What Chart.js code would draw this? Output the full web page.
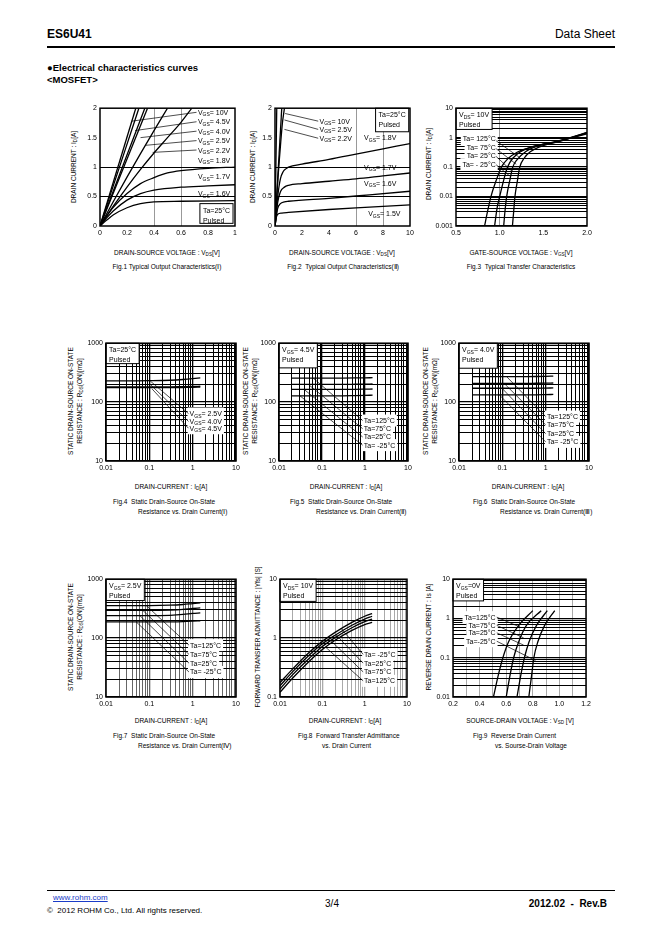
<!DOCTYPE html>
<html>
<head>
<meta charset="utf-8">
<script src="https://cdn.jsdelivr.net/npm/chart.js@4.4.1/dist/chart.umd.min.js"></script>
<style>
body{margin:0;width:662px;height:936px;background:#fff;position:relative;overflow:hidden;font-family:'Liberation Sans',Arial,sans-serif;color:#000}
.a{position:absolute;white-space:nowrap;line-height:1}
.c{transform:translate(-50%,-50%)}
.l{transform:translateY(-50%)}
.r{transform:translate(-100%,-50%)}
.s{font-size:6.5px}
.yt{position:absolute;white-space:nowrap;font-size:6.5px;line-height:9px;text-align:center;transform:translate(-50%,-50%) rotate(-90deg)}
sub{font-size:70%;vertical-align:-1px;line-height:0}
canvas{position:absolute}
.hr{position:absolute;left:47px;width:568px;background:#000}
</style>
</head>
<body>
<div class="a l" style="left:47px;top:34px;font-size:12px;font-weight:bold">ES6U41</div>
<div class="a r" style="left:615px;top:34px;font-size:12px">Data Sheet</div>
<div class="hr" style="top:46px;height:2px"></div>
<div class="a l" style="left:47px;top:68px;font-size:9.5px;font-weight:bold">●Electrical characteristics curves</div>
<div class="a l" style="left:47px;top:80px;font-size:9.5px;font-weight:bold">&lt;MOSFET&gt;</div>

<!-- axis titles, row 1 -->
<div class="yt" style="left:73px;top:167px">DRAIN CURRENT : I<sub>D</sub>[A]</div>
<div class="yt" style="left:252px;top:167px">DRAIN CURRENT : I<sub>D</sub>[A]</div>
<div class="yt" style="left:428px;top:164px">DRAIN CURRENT : I<sub>D</sub>[A]</div>
<div class="a c s" style="left:167px;top:253px">DRAIN-SOURCE VOLTAGE : V<sub>DS</sub>[V]</div>
<div class="a c s" style="left:342px;top:253px">DRAIN-SOURCE VOLTAGE : V<sub>DS</sub>[V]</div>
<div class="a c s" style="left:521px;top:253px">GATE-SOURCE VOLTAGE : V<sub>GS</sub>[V]</div>
<div class="a c s" style="left:167px;top:267px">Fig.1 Typical Output Characteristics(Ⅰ)</div>
<div class="a c s" style="left:343px;top:267px">Fig.2&nbsp; Typical Output Characteristics(Ⅱ)</div>
<div class="a c s" style="left:521px;top:267px">Fig.3&nbsp; Typical Transfer Characteristics</div>

<!-- row 2 -->
<div class="yt" style="left:75px;top:401px">STATIC DRAIN-SOURCE ON-STATE<br>RESISTANCE : R<sub>DS</sub>(ON)[mΩ]</div>
<div class="yt" style="left:250px;top:401px">STATIC DRAIN-SOURCE ON-STATE<br>RESISTANCE : R<sub>DS</sub>(ON)[mΩ]</div>
<div class="yt" style="left:430px;top:401px">STATIC DRAIN-SOURCE ON-STATE<br>RESISTANCE : R<sub>DS</sub>(ON)[mΩ]</div>
<div class="a c s" style="left:171px;top:487px">DRAIN-CURRENT : I<sub>D</sub>[A]</div>
<div class="a c s" style="left:346px;top:487px">DRAIN-CURRENT : I<sub>D</sub>[A]</div>
<div class="a c s" style="left:528px;top:487px">DRAIN-CURRENT : I<sub>D</sub>[A]</div>
<div class="a l s" style="left:113px;top:502px">Fig.4&nbsp; Static Drain-Source On-State</div>
<div class="a l s" style="left:138px;top:512px">Resistance vs. Drain Current(Ⅰ)</div>
<div class="a l s" style="left:290px;top:502px">Fig.5&nbsp; Static Drain-Source On-State</div>
<div class="a l s" style="left:316px;top:512px">Resistance vs. Drain Current(Ⅱ)</div>
<div class="a l s" style="left:473px;top:502px">Fig.6&nbsp; Static Drain-Source On-State</div>
<div class="a l s" style="left:500px;top:512px">Resistance vs. Drain Current(Ⅲ)</div>

<!-- row 3 -->
<div class="yt" style="left:75px;top:637px">STATIC DRAIN-SOURCE ON-STATE<br>RESISTANCE : R<sub>DS</sub>(ON)[mΩ]</div>
<div class="yt" style="left:257px;top:637px">FORWARD TRANSFER ADMITTANCE : |Yfs| [S]</div>
<div class="yt" style="left:428px;top:637px">REVERSE DRAIN CURRENT : Is [A]</div>
<div class="a c s" style="left:171px;top:721px">DRAIN-CURRENT : I<sub>D</sub>[A]</div>
<div class="a c s" style="left:345px;top:721px">DRAIN-CURRENT : I<sub>D</sub>[A]</div>
<div class="a c s" style="left:520px;top:721px">SOURCE-DRAIN VOLTAGE : V<sub>SD</sub> [V]</div>
<div class="a l s" style="left:113px;top:736px">Fig.7&nbsp; Static Drain-Source On-State</div>
<div class="a l s" style="left:138px;top:746px">Resistance vs. Drain Current(Ⅳ)</div>
<div class="a l s" style="left:298px;top:736px">Fig.8&nbsp; Forward Transfer Admittance</div>
<div class="a l s" style="left:322px;top:746px">vs. Drain Current</div>
<div class="a l s" style="left:473px;top:736px">Fig.9&nbsp; Reverse Drain Current</div>
<div class="a l s" style="left:495px;top:746px">vs. Sourse-Drain Voltage</div>

<!-- footer -->
<div class="hr" style="top:890px;height:1px"></div>
<div class="a l" style="left:53px;top:898px;font-size:8px;color:#1a3cc8;text-decoration:underline">www.rohm.com</div>
<div class="a l" style="left:47px;top:911px;font-size:8px">©&nbsp; 2012 ROHM Co., Ltd. All rights reserved.</div>
<div class="a c" style="left:332px;top:904px;font-size:10px">3/4</div>
<div class="a r" style="left:607px;top:904px;font-size:10px;font-weight:bold">2012.02&nbsp; -&nbsp; Rev.B</div>

<script>
// ---- tick labels ----
const f1XTicks = ['0', '0.2', '0.4', '0.6', '0.8', '1'];
const f1YTicks = ['0', '0.5', '1', '1.5', '2'];
const f2XTicks = ['0', '2', '4', '6', '8', '10'];
const f3XTicks = ['0.5', '1.0', '1.5', '2.0'];
const f3YTicks = ['0.001', '0.01', '0.1', '1', '10'];
const rdsXTicks = ['0.01', '0.1', '1', '10'];
const rdsYTicks = ['10', '100', '1000'];
const f8YTicks = ['0.1', '1', '10'];
const f9XTicks = ['0.2', '0.4', '0.6', '0.8', '1.0', '1.2'];
const f9YTicks = ['0.01', '0.1', '1', '10'];

// ---- Fig.1  Id vs Vds (0..1V) ----
const f1_10V_x  = [0, 0.265],            f1_10V_y  = [0, 2];
const f1_45V_x  = [0, 0.288],            f1_45V_y  = [0, 2];
const f1_40V_x  = [0, 0.332],            f1_40V_y  = [0, 2];
const f1_25V_x  = [0, 0.352],            f1_25V_y  = [0, 2];
const f1_22V_x  = [0, 0.1, 0.2, 0.3, 0.4, 0.5];
const f1_22V_y  = [0, 0.42, 0.83, 1.23, 1.62, 2.0];
const f1_18V_x  = [0, 0.1, 0.2, 0.3, 0.4, 0.5, 0.6, 0.68];
const f1_18V_y  = [0, 0.34, 0.66, 0.96, 1.24, 1.5, 1.76, 2.0];
const f1_17V_x  = [0, 0.05, 0.1, 0.2, 0.3, 0.4, 0.5, 0.6, 0.8, 1.0];
const f1_17V_y  = [0, 0.17, 0.32, 0.55, 0.72, 0.82, 0.9, 0.94, 0.98, 1.0];
const f1_16V_x  = [0, 0.05, 0.1, 0.2, 0.3, 0.4, 0.6, 0.8, 1.0];
const f1_16V_y  = [0, 0.14, 0.26, 0.44, 0.55, 0.61, 0.66, 0.68, 0.70];
const f1_15V_x  = [0, 0.05, 0.1, 0.2, 0.3, 0.4, 0.6, 1.0];
const f1_15V_y  = [0, 0.1, 0.19, 0.31, 0.38, 0.41, 0.42, 0.43];

// ---- Fig.2  Id vs Vds (0..10V) ----
const f2_10V_x = [0, 0.13],              f2_10V_y = [0, 2];
const f2_25V_x = [0, 0.5],               f2_25V_y = [0, 2];
const f2_22V_x = [0, 0.2, 0.4, 0.55, 0.7];
const f2_22V_y = [0, 0.75, 1.35, 1.75, 2.0];
const f2_18V_x = [0, 0.2, 0.4, 0.6, 0.8, 1, 2, 4, 6, 8, 10];
const f2_18V_y = [0, 0.5, 0.8, 0.92, 0.97, 1.0, 1.05, 1.13, 1.22, 1.31, 1.4];
const f2_17V_x = [0, 0.2, 0.4, 0.7, 1, 2, 4, 6, 8, 10];
const f2_17V_y = [0, 0.4, 0.58, 0.66, 0.69, 0.72, 0.76, 0.8, 0.85, 0.9];
const f2_16V_x = [0, 0.2, 0.4, 0.7, 1, 4, 7, 10];
const f2_16V_y = [0, 0.3, 0.38, 0.41, 0.42, 0.47, 0.53, 0.59];
const f2_15V_x = [0, 0.1, 0.2, 0.5, 1, 4, 7, 10];
const f2_15V_y = [0, 0.15, 0.2, 0.22, 0.23, 0.28, 0.32, 0.36];

// ---- Fig.3  Id vs Vgs ----
const f3_125_x = [0.827, 0.86, 0.9, 0.96, 1.02, 1.1, 1.2, 1.3, 1.45, 1.6, 1.8, 2.0];
const f3_125_y = [0.001, 0.003, 0.01, 0.035, 0.1, 0.2, 0.32, 0.42, 0.55, 0.67, 0.95, 1.35];
const f3_75_x  = [0.942, 0.97, 1.0, 1.05, 1.09, 1.15, 1.25, 1.35, 1.5, 1.6, 1.8, 2.0];
const f3_75_y  = [0.001, 0.004, 0.01, 0.04, 0.1, 0.2, 0.35, 0.47, 0.6, 0.68, 0.97, 1.42];
const f3_25_x  = [1.046, 1.06, 1.08, 1.12, 1.15, 1.2, 1.3, 1.4, 1.5, 1.6, 1.8, 2.0];
const f3_25_y  = [0.001, 0.003, 0.01, 0.04, 0.1, 0.18, 0.34, 0.48, 0.6, 0.69, 0.98, 1.48];
const f3_m25_x = [1.146, 1.16, 1.175, 1.2, 1.23, 1.28, 1.35, 1.45, 1.55, 1.65, 1.8, 2.0];
const f3_m25_y = [0.001, 0.003, 0.01, 0.03, 0.1, 0.2, 0.33, 0.48, 0.6, 0.7, 0.95, 1.52];

// ---- Fig.4  Rds(on) vs Id, Ta=25C ----
const f4_id      = [0.01, 0.05, 0.1, 0.3, 0.6, 1, 1.5];
const f4_25V_rds = [230, 230, 231, 235, 242, 250, 258];
const f4_40V_rds = [182, 182, 182, 182, 183, 184, 186];
const f4_45V_rds = [176, 176, 176, 176, 177, 178, 180];

// ---- Fig.5  Rds(on) vs Id, Vgs=4.5V ----
const f5_id       = [0.02, 0.05, 0.1, 0.3, 0.6, 1, 1.5];
const f5_125_rds  = [255, 255, 255, 256, 257, 258, 260];
const f5_75_rds   = [200, 200, 200, 200, 201, 202, 203];
const f5_25_rds   = [165, 165, 165, 165, 165, 166, 167];
const f5_m25_rds  = [128, 128, 128, 128, 129, 130, 131];

// ---- Fig.6  Rds(on) vs Id, Vgs=4.0V ----
const f6_id       = [0.02, 0.05, 0.1, 0.3, 0.6, 1, 1.5];
const f6_125_rds  = [270, 270, 270, 271, 272, 274, 276];
const f6_75_rds   = [208, 208, 208, 208, 209, 210, 211];
const f6_25_rds   = [172, 172, 172, 172, 172, 173, 174];
const f6_m25_rds  = [133, 133, 133, 133, 133, 134, 135];

// ---- Fig.7  Rds(on) vs Id, Vgs=2.5V ----
const f7_id       = [0.01, 0.05, 0.1, 0.3, 0.6, 1, 1.5];
const f7_125_rds  = [357, 357, 357, 362, 372, 385, 395];
const f7_75_rds   = [295, 295, 295, 300, 308, 318, 325];
const f7_25_rds   = [240, 240, 240, 244, 252, 262, 268];
const f7_m25_rds  = [188, 188, 188, 189, 191, 194, 197];

// ---- Fig.8  |Yfs| vs Id ----
const f8_id       = [0.01, 0.02, 0.05, 0.1, 0.2, 0.5, 1, 1.5];
const f8_m25_yfs  = [0.175, 0.3, 0.58, 0.88, 1.25, 1.85, 2.35, 2.6];
const f8_25_yfs   = [0.155, 0.27, 0.52, 0.8, 1.12, 1.65, 2.1, 2.35];
const f8_75_yfs   = [0.137, 0.24, 0.46, 0.72, 1.02, 1.5, 1.9, 2.1];
const f8_125_yfs  = [0.12, 0.21, 0.41, 0.64, 0.92, 1.35, 1.7, 1.85];

// ---- Fig.9  Is vs Vsd ----
const f9_is       = [0.01, 0.0376, 0.1, 0.256, 0.666, 1.58];
const f9_125_vsd  = [0.504, 0.542, 0.575, 0.618, 0.694, 0.80];
const f9_75_vsd   = [0.6, 0.63, 0.656, 0.694, 0.752, 0.863];
const f9_25_vsd   = [0.681, 0.711, 0.737, 0.772, 0.828, 0.909];
const f9_m25_vsd  = [0.77, 0.792, 0.808, 0.838, 0.889, 0.965];

Chart.defaults.font.family = "'Liberation Sans', Arial, sans-serif";
Chart.defaults.font.size = 7;
Chart.defaults.color = '#000';

const PL = 30, PB = 14, PT = 6, PR = 10;
const FONT = "7px 'Liberation Sans', Arial, sans-serif";
const SUBF = "5px 'Liberation Sans', Arial, sans-serif";
const NONE = 'rgba(0,0,0,0)';

// text with _{sub} parts
function parts(s) {
    const out = [], re = /_\{([^}]*)\}/g;
    let last = 0, m;
    while ((m = re.exec(s))) {
        if (m.index > last) out.push([s.slice(last, m.index), false]);
        out.push([m[1], true]);
        last = re.lastIndex;
    }
    if (last < s.length) out.push([s.slice(last), false]);
    return out;
}
function richWidth(ctx, s) {
    return parts(s).reduce((w, [t, sub]) => { ctx.font = sub ? SUBF : FONT; return w + ctx.measureText(t).width; }, 0);
}
function drawRich(ctx, s, x, y) {
    for (const [t, sub] of parts(s)) {
        ctx.font = sub ? SUBF : FONT;
        ctx.fillText(t, x, y + (sub ? 1.5 : 0));
        x += ctx.measureText(t).width;
    }
}

const notesPlugin = {
    id: 'notes',
    afterDatasetsDraw(chart, args, o) {
        const { ctx, scales: { x, y }, chartArea: a } = chart;
        const px = v => x.getPixelForValue(v), py = v => y.getPixelForValue(v);
        ctx.save();
        ctx.textBaseline = 'alphabetic';
        const labs = (o.labels || []).map(([text, lx, ly]) => {
            const w = richWidth(ctx, text);
            const left = o.align === 'right' ? px(lx) - w : px(lx);
            return { text, left, w, top: py(ly) };
        });
        if (o.fill) {
            ctx.fillStyle = '#fff';
            labs.forEach(l => ctx.fillRect(l.left - 2, l.top - 6, l.w + 4, 12));
        }
        ctx.strokeStyle = '#000';
        ctx.lineWidth = 0.7;
        (o.leaders || []).forEach(([x1, y1, x2, y2]) => {
            ctx.beginPath(); ctx.moveTo(px(x1), py(y1)); ctx.lineTo(px(x2), py(y2)); ctx.stroke();
        });
        ctx.fillStyle = '#000';
        labs.forEach(l => drawRich(ctx, l.text, l.left, l.top + 2.5));
        if (o.box) {
            const b = o.box;
            const textW = Math.max(...b.lines.map(t => richWidth(ctx, t)));
            const bx = px(b.x1), by = py(b.y1);
            const bw = Math.max(px(b.x2) - bx, textW + 6), bh = py(b.y2) - by;
            ctx.fillStyle = '#fff'; ctx.fillRect(bx, by, bw, bh);
            ctx.lineWidth = 1; ctx.strokeRect(bx, by, bw, bh);
            ctx.fillStyle = '#000';
            b.lines.forEach((t, i) => drawRich(ctx, t, bx + 3, by + 9 + i * 10));
        }
        ctx.lineWidth = 1.5;
        ctx.strokeRect(a.left, a.top, a.right - a.left, a.bottom - a.top);
        ctx.restore();
    }
};

const near = (v, list) => list.some(m => Math.abs(m - v) < 1e-6);

function linScale(min, max, step, labels, marks, color, every = 1) {
    return {
        type: 'linear', min, max,
        ticks: { stepSize: step, autoSkip: false, maxRotation: 0, padding: 3,
                 callback: (v, i) => (i % every ? '' : labels[i / every]) },
        grid: { drawTicks: false, lineWidth: 1,
                color: c => (marks === 'all' || near(c.tick.value, marks)) ? color : NONE },
        border: { display: false }
    };
}

function logTicks(lo, hi) {
    const t = [];
    for (let e = lo; e < hi; e++) for (let s = 1; s < 10; s++) t.push(s * Math.pow(10, e));
    t.push(Math.pow(10, hi));
    return t;
}
const isDecade = v => { const e = Math.log10(v); return Math.abs(e - Math.round(e)) < 1e-6; };

function logScale(lo, hi, labels, color) {
    return {
        type: 'logarithmic', min: Math.pow(10, lo), max: Math.pow(10, hi),
        afterBuildTicks: s => { s.ticks = logTicks(lo, hi).map(value => ({ value })); },
        ticks: { autoSkip: false, maxRotation: 0, padding: 3,
                 callback: v => (isDecade(v) ? labels[Math.round(Math.log10(v)) - lo] : '') },
        grid: { drawTicks: false, color, lineWidth: c => (isDecade(c.tick.value) ? 1.3 : 1) },
        border: { display: false }
    };
}

const ds = (xs, ys) => ({ data: xs.map((v, i) => ({ x: v, y: ys[i] })) });

function makeChart(rect, xScale, yScale, datasets, notes) {
    const [l, t, r, b] = rect;
    const cv = document.createElement('canvas');
    const w = r - l + PL + PR, h = b - t + PT + PB;
    cv.width = w; cv.height = h;
    cv.style.left = (l - PL) + 'px'; cv.style.top = (t - PT) + 'px';
    cv.style.width = w + 'px'; cv.style.height = h + 'px';
    document.body.appendChild(cv);
    xScale.afterFit = s => { s.height = PB; };
    yScale.afterFit = s => { s.width = PL; };
    new Chart(cv, {
        type: 'line',
        data: { datasets },
        options: {
            responsive: false, animation: false, devicePixelRatio: 1, events: [],
            layout: { padding: { top: PT, right: PR, left: 0, bottom: 0 } },
            plugins: { legend: { display: false }, tooltip: { enabled: false }, notes },
            scales: { x: xScale, y: yScale },
            elements: {
                point: { radius: 0 },
                line: { borderColor: '#000', borderWidth: 1.3, cubicInterpolationMode: 'monotone' }
            }
        },
        plugins: [notesPlugin]
    });
}

// Fig.1
makeChart([100, 107, 235, 226],
    linScale(0, 1, 0.2, f1XTicks, [0.4, 0.6], '#999'),
    linScale(0, 2, 0.5, f1YTicks, [0.5, 1], '#000'),
    [ds(f1_10V_x, f1_10V_y), ds(f1_45V_x, f1_45V_y), ds(f1_40V_x, f1_40V_y), ds(f1_25V_x, f1_25V_y),
     ds(f1_22V_x, f1_22V_y), ds(f1_18V_x, f1_18V_y), ds(f1_17V_x, f1_17V_y), ds(f1_16V_x, f1_16V_y),
     ds(f1_15V_x, f1_15V_y)],
    { labels: [['V_{GS}= 10V', 0.725, 1.93], ['V_{GS}= 4.5V', 0.725, 1.77], ['V_{GS}= 4.0V', 0.725, 1.61],
               ['V_{GS}= 2.5V', 0.725, 1.45], ['V_{GS}= 2.2V', 0.725, 1.29], ['V_{GS}= 1.8V', 0.725, 1.12],
               ['V_{GS}= 1.7V', 0.725, 0.84], ['V_{GS}= 1.6V', 0.725, 0.55]],
      leaders: [[0.235, 1.78, 0.715, 1.93], [0.26, 1.62, 0.715, 1.77], [0.30, 1.50, 0.715, 1.61],
                [0.34, 1.37, 0.715, 1.45], [0.39, 1.25, 0.715, 1.29]],
      box: { x1: 0.74, y1: 0.38, x2: 0.985, y2: 0.045, lines: ['Ta=25°C', 'Pulsed'] } });

// Fig.2
makeChart([275, 107, 410, 226],
    linScale(0, 10, 2, f2XTicks, [6, 8], '#999'),
    linScale(0, 2, 0.5, f1YTicks, [0.5, 1], '#000'),
    [ds(f2_10V_x, f2_10V_y), ds(f2_25V_x, f2_25V_y), ds(f2_22V_x, f2_22V_y), ds(f2_18V_x, f2_18V_y),
     ds(f2_17V_x, f2_17V_y), ds(f2_16V_x, f2_16V_y), ds(f2_15V_x, f2_15V_y)],
    { labels: [['V_{GS}= 10V', 3.3, 1.78], ['V_{GS}= 2.5V', 3.3, 1.64], ['V_{GS}= 2.2V', 3.3, 1.49],
               ['V_{GS}= 1.8V', 6.6, 1.5], ['V_{GS}= 1.7V', 6.6, 1.0], ['V_{GS}= 1.6V', 6.6, 0.73],
               ['V_{GS}= 1.5V', 6.9, 0.21]],
      leaders: [[0.75, 1.91, 3.2, 1.78], [0.7, 1.8, 3.2, 1.64], [0.7, 1.64, 3.2, 1.49]],
      box: { x1: 7.45, y1: 2.0, x2: 9.85, y2: 1.6, lines: ['Ta=25°C', 'Pulsed'] } });

// Fig.3
makeChart([456, 107, 587, 226],
    linScale(0.5, 2.0, 0.5, f3XTicks, [1.0], '#999'),
    logScale(-3, 1, f3YTicks, '#000'),
    [ds(f3_125_x, f3_125_y), ds(f3_75_x, f3_75_y), ds(f3_25_x, f3_25_y), ds(f3_m25_x, f3_m25_y)],
    { fill: true, align: 'right',
      labels: [['Ta= 125°C', 0.955, 0.9], ['Ta= 75°C', 0.955, 0.46], ['Ta= 25°C', 0.955, 0.25], ['Ta= - 25°C', 0.955, 0.126]],
      leaders: [[0.96, 0.78, 1.23, 0.21], [0.96, 0.42, 1.19, 0.125], [0.96, 0.23, 1.135, 0.075], [0.96, 0.12, 1.115, 0.05]],
      box: { x1: 0.5, y1: 10, x2: 0.87, y2: 1.9, lines: ['V_{DS}= 10V', 'Pulsed'] } });

// Fig.4
makeChart([106, 342, 236, 461],
    logScale(-2, 1, rdsXTicks, '#000'),
    logScale(1, 3, rdsYTicks, '#000'),
    [ds(f4_id, f4_25V_rds), ds(f4_id, f4_40V_rds), ds(f4_id, f4_45V_rds)],
    { fill: true,
      labels: [['V_{GS}= 2.5V', 0.85, 64], ['V_{GS}= 4.0V', 0.85, 47], ['V_{GS}= 4.5V', 0.85, 36]],
      leaders: [[0.105, 228, 0.8, 64], [0.105, 200, 0.8, 47], [0.115, 168, 0.8, 36]],
      box: { x1: 0.01, y1: 1000, x2: 0.048, y2: 450, lines: ['Ta=25°C', 'Pulsed'] } });

// Fig.5
makeChart([279, 342, 408, 461],
    logScale(-2, 1, rdsXTicks, '#000'),
    logScale(1, 3, rdsYTicks, '#000'),
    [ds(f5_id, f5_125_rds), ds(f5_id, f5_75_rds), ds(f5_id, f5_25_rds), ds(f5_id, f5_m25_rds)],
    { fill: true,
      labels: [['Ta=125°C', 0.94, 48.6], ['Ta=75°C', 0.94, 35.4], ['Ta=25°C', 0.94, 25.6], ['Ta= -25°C', 0.94, 18.6]],
      leaders: [[0.0625, 255, 0.88, 48.6], [0.048, 200, 0.88, 35.4], [0.038, 165, 0.88, 25.6], [0.0306, 128, 0.88, 18.6]],
      box: { x1: 0.01, y1: 1000, x2: 0.055, y2: 381, lines: ['V_{GS}= 4.5V', 'Pulsed'] } });

// Fig.6
makeChart([459, 342, 589, 461],
    logScale(-2, 1, rdsXTicks, '#000'),
    logScale(1, 3, rdsYTicks, '#000'),
    [ds(f6_id, f6_125_rds), ds(f6_id, f6_75_rds), ds(f6_id, f6_25_rds), ds(f6_id, f6_m25_rds)],
    { fill: true,
      labels: [['Ta=125°C', 1.07, 56.8], ['Ta=75°C', 1.07, 41.1], ['Ta=25°C', 1.07, 29.1], ['Ta= -25°C', 1.07, 21.1]],
      leaders: [[0.126, 270, 1.0, 56.8], [0.11, 208, 1.0, 41.1], [0.098, 172, 1.0, 29.1], [0.085, 133, 1.0, 21.1]],
      box: { x1: 0.01, y1: 1000, x2: 0.064, y2: 376, lines: ['V_{GS}= 4.0V', 'Pulsed'] } });

// Fig.7
makeChart([106, 578, 236, 697],
    logScale(-2, 1, rdsXTicks, '#666'),
    logScale(1, 3, rdsYTicks, '#000'),
    [ds(f7_id, f7_125_rds), ds(f7_id, f7_75_rds), ds(f7_id, f7_25_rds), ds(f7_id, f7_m25_rds)],
    { fill: true,
      labels: [['Ta=125°C', 0.87, 76], ['Ta=75°C', 0.87, 53], ['Ta=25°C', 0.87, 37.6], ['Ta= -25°C', 0.87, 26.6]],
      leaders: [[0.085, 357, 0.82, 76], [0.071, 295, 0.82, 53], [0.06, 242, 0.82, 37.6], [0.05, 188, 0.82, 26.6]],
      box: { x1: 0.01, y1: 1000, x2: 0.06, y2: 434, lines: ['V_{GS}= 2.5V', 'Pulsed'] } });

// Fig.8
makeChart([280, 578, 407, 697],
    logScale(-2, 1, rdsXTicks, '#aaa'),
    logScale(-1, 1, f8YTicks, '#000'),
    [ds(f8_id, f8_m25_yfs), ds(f8_id, f8_25_yfs), ds(f8_id, f8_75_yfs), ds(f8_id, f8_125_yfs)],
    { fill: true,
      labels: [['Ta= -25°C', 0.97, 0.53], ['Ta=25°C', 0.97, 0.376], ['Ta=75°C', 0.97, 0.267], ['Ta=125°C', 0.97, 0.188]],
      leaders: [[0.28, 1.45, 0.92, 0.53], [0.21, 1.14, 0.92, 0.376], [0.16, 0.9, 0.92, 0.267], [0.12, 0.7, 0.92, 0.188]],
      box: { x1: 0.01, y1: 10, x2: 0.058, y2: 4.2, lines: ['V_{DS}= 10V', 'Pulsed'] } });

// Fig.9
makeChart([453, 578, 586, 697],
    linScale(0.2, 1.2, 0.1, f9XTicks, 'all', '#aaa', 2),
    logScale(-2, 1, f9YTicks, '#000'),
    [ds(f9_125_vsd, f9_is), ds(f9_75_vsd, f9_is), ds(f9_25_vsd, f9_is), ds(f9_m25_vsd, f9_is)],
    { fill: true, align: 'right',
      labels: [['Ta=125°C', 0.52, 1.08], ['Ta=75°C', 0.52, 0.667], ['Ta=25°C', 0.52, 0.43], ['Ta=-25°C', 0.52, 0.263]],
      leaders: [[0.529, 1.08, 0.706, 0.6], [0.529, 0.667, 0.731, 0.32], [0.529, 0.43, 0.731, 0.21], [0.529, 0.263, 0.82, 0.085]],
      box: { x1: 0.2, y1: 10, x2: 0.428, y2: 2.8, lines: ['V_{GS}=0V', 'Pulsed'] } });
</script>
</body>
</html>
